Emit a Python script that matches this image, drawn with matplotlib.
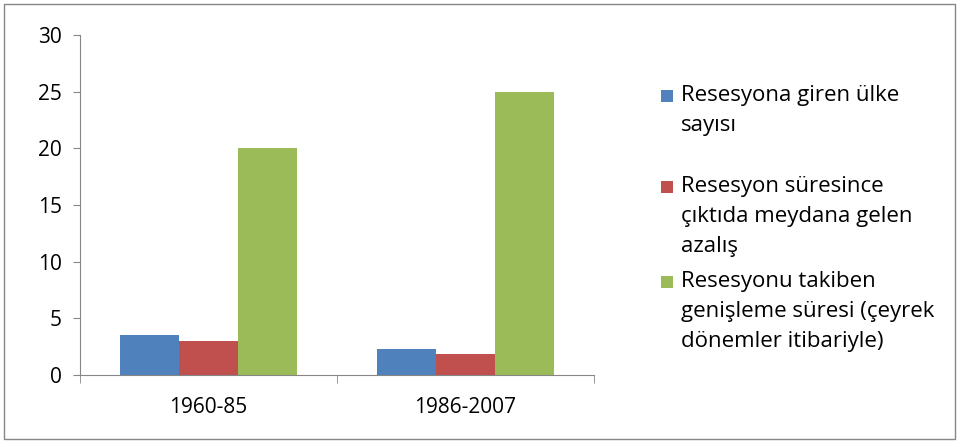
import matplotlib
matplotlib.use('Agg')
import matplotlib.pyplot as plt
from matplotlib.patches import Rectangle
import numpy as np

plt.rcParams['font.family'] = ['Open Sans', 'DejaVu Sans']

# 数据
periods = ['1960-85', '1986-2007']
series_names = ['Resesyona giren ülke\nsayısı',
                'Resesyon süresince\nçıktıda meydana gelen\nazalış',
                'Resesyonu takiben\ngenişleme süresi (çeyrek\ndönemler itibariyle)']
ulke_sayisi = [3.5, 2.3]
cikti_azalis = [3.0, 1.85]
genisleme = [20, 25]
y_ticks = [0, 5, 10, 15, 20, 25, 30]

colors = ['#4f81bd', '#c0504d', '#9bbb59']

W, H = 961, 443
fig = plt.figure(figsize=(W / 100, H / 100), dpi=100)
ax = fig.add_axes([80 / W, 1 - 375 / H, 514 / W, 340 / H])

x = np.arange(len(periods))
w = 0.23
bars = []
for i, vals in enumerate([ulke_sayisi, cikti_azalis, genisleme]):
    b = ax.bar(x + (i - 1) * w, vals, width=w, color=colors[i], zorder=2)
    bars.append(b)

ax.set_xlim(-0.5, 1.5)
ax.set_ylim(0, 30)
ax.set_yticks(y_ticks)
ax.set_xticks(x)
ax.set_xticklabels(periods)
ax.set_xticks([-0.5, 0.5, 1.5], minor=True)
ax.tick_params(axis='x', which='major', length=0, pad=16, labelsize=15)
ax.tick_params(axis='x', which='minor', length=6, color='#868686')
ax.tick_params(axis='y', length=5, color='#868686', labelsize=15, pad=8)
for s in ['top', 'right']:
    ax.spines[s].set_visible(False)
for s in ['left', 'bottom']:
    ax.spines[s].set_color('#868686')

# 图例（手动绘制，颜色取自柱子）
legend_tops = [85, 176, 271]
for b, name, top in zip(bars, series_names, legend_tops):
    fig.patches.append(Rectangle((661 / W, 1 - (top + 17) / H), 12 / W, 12 / H,
                                 transform=fig.transFigure,
                                 facecolor=b.patches[0].get_facecolor(), edgecolor='none'))
    fig.text(681 / W, 1 - top / H, name, fontsize=16, va='top', ha='left',
             linespacing=1.55, color='#000000')

# 外框
fig.patches.append(Rectangle((0.004, 0.008), 0.99, 0.984, transform=fig.transFigure,
                             fill=False, edgecolor='#868686', linewidth=1))

fig.savefig('out.png', dpi=100)
